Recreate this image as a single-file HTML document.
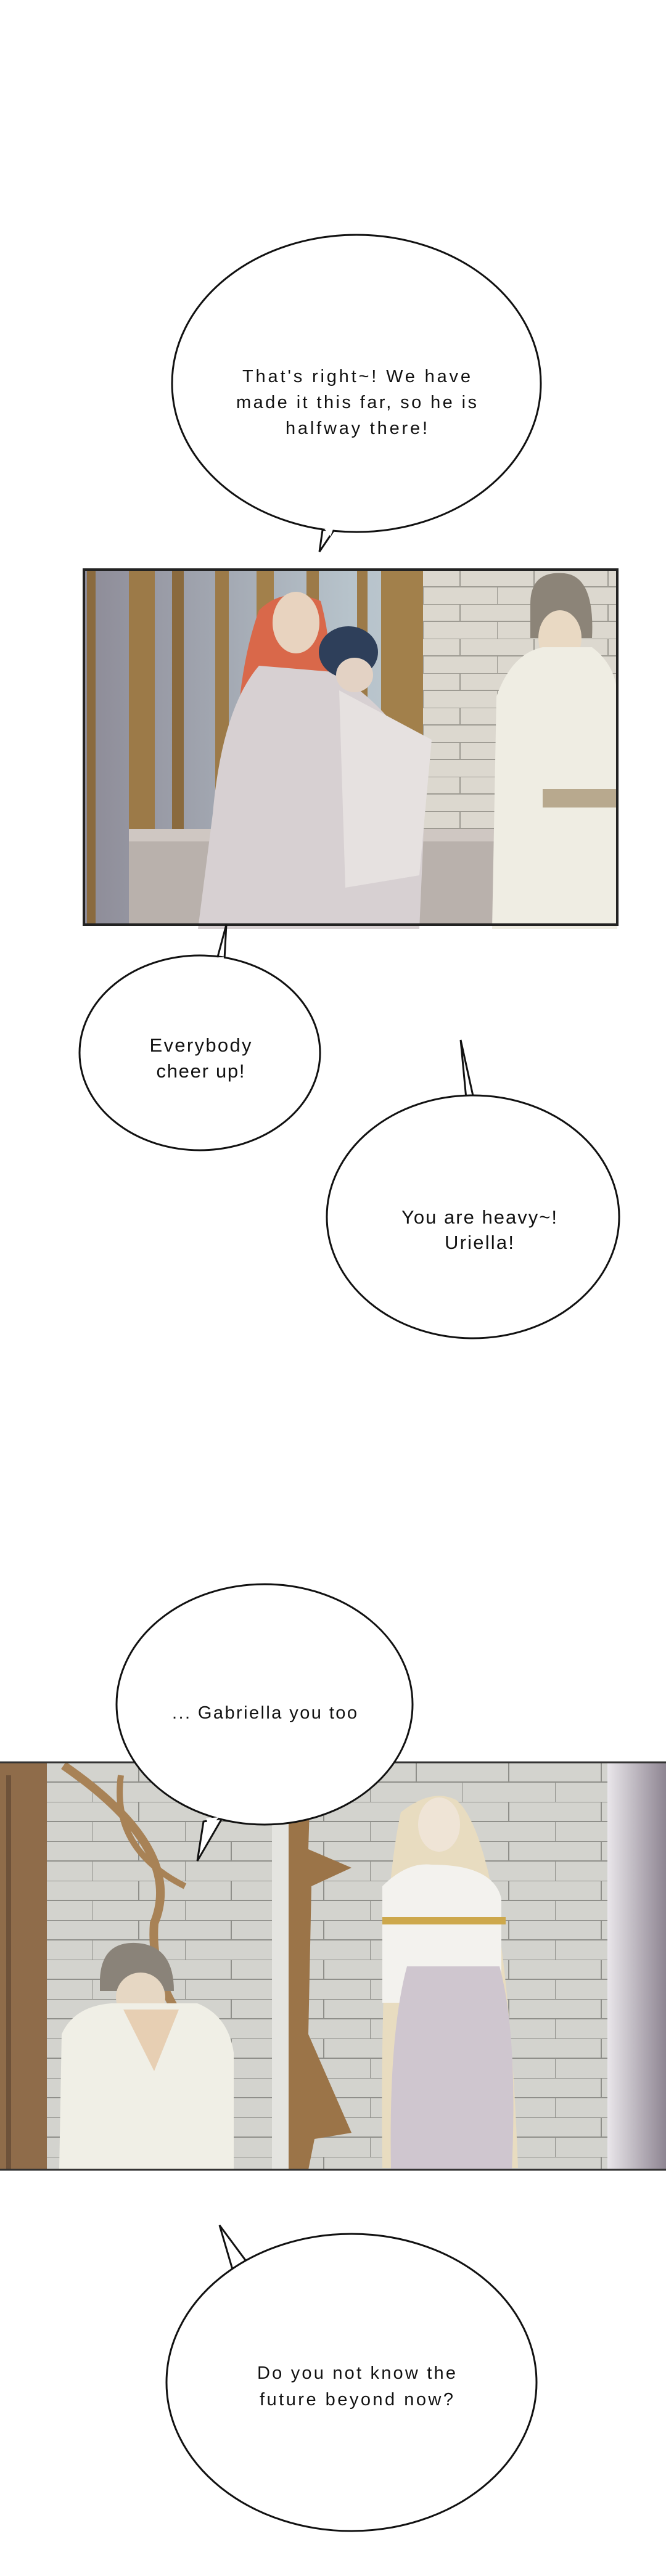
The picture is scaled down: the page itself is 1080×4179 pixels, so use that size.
<!DOCTYPE html>
<html><head><meta charset="utf-8"><style>
html,body{margin:0;padding:0;background:#fff}
svg{display:block}
text{font-family:"Liberation Sans",sans-serif;fill:#111;text-anchor:middle}
</style></head><body>
<svg width="1080" height="4179" viewBox="0 0 1080 4179" xmlns="http://www.w3.org/2000/svg">
<defs>
<linearGradient id="lw" x1="0" x2="1" y1="0" y2="0"><stop offset="0" stop-color="#8d8b97"/><stop offset="0.5" stop-color="#b7c3cb"/><stop offset="1" stop-color="#c9d3d6"/></linearGradient>
<linearGradient id="rp" x1="0" x2="1"><stop offset="0" stop-color="#e9e6ea"/><stop offset="1" stop-color="#8e8592"/></linearGradient>
<pattern id="brick1" width="120" height="56" patternUnits="userSpaceOnUse" x="686" y="924"><rect width="120" height="56" fill="#dcd8cf"/><path d="M0 0H120M0 28H120M60 0V28M0 28V56" stroke="#9d9a92" stroke-width="2" fill="none"/></pattern>
<pattern id="brick2" width="150" height="64" patternUnits="userSpaceOnUse" x="0" y="2859"><rect width="150" height="64" fill="#d3d3ce"/><path d="M0 0H150M0 32H150M75 0V32M0 32V64" stroke="#8f8f8a" stroke-width="2" fill="none"/></pattern>
</defs>

<!-- Bubble 1 -->
<path d="M523 860 L518 895 L545 855 Z" fill="#fff" stroke="#111" stroke-width="3"/>
<ellipse cx="578" cy="622" rx="299" ry="241" fill="#fff" stroke="#111" stroke-width="3"/>
<path d="M526 858 L541 856 L536 870 Z" fill="#fff"/>
<text x="578" y="620" font-size="29" textLength="370">That's right~! We have</text>
<text x="578" y="662" font-size="29" textLength="390">made it this far, so he is</text>
<text x="578" y="704" font-size="29" textLength="230">halfway there!</text>

<!-- Panel 1 -->
<g>
<rect x="136" y="924" width="865" height="576" fill="url(#lw)"/>
<rect x="686" y="924" width="315" height="576" fill="url(#brick1)"/>
<rect x="141" y="924" width="14" height="576" fill="#8a6a3e"/>
<rect x="209" y="924" width="42" height="440" fill="#9c7a48"/>
<rect x="279" y="924" width="19" height="440" fill="#8a6a3e"/>
<rect x="349" y="924" width="22" height="440" fill="#9c7a48"/>
<rect x="416" y="924" width="28" height="440" fill="#a2804b"/>
<rect x="497" y="924" width="20" height="440" fill="#9c7a48"/>
<rect x="579" y="924" width="17" height="440" fill="#9c7a48"/>
<rect x="618" y="924" width="68" height="440" fill="#a2804b"/>
<rect x="209" y="1345" width="640" height="155" fill="#b9b1ac"/>
<rect x="209" y="1345" width="640" height="20" fill="#cfc7c2"/>
<path d="M383 1277 Q380 1100 420 990 Q460 950 520 975 Q540 1050 534 1120 Z" fill="#d9684a"/>
<path d="M321 1507 L345 1320 Q360 1150 420 1080 L540 1090 Q640 1150 691 1260 L680 1507 Z" fill="#d7d0d2"/>
<ellipse cx="480" cy="1010" rx="38" ry="50" fill="#e8d3bf"/>
<ellipse cx="565" cy="1058" rx="48" ry="42" fill="#2e3f5a"/>
<ellipse cx="575" cy="1095" rx="30" ry="28" fill="#e3d2c4"/>
<path d="M550 1120 L700 1200 L680 1420 L560 1440 Z" fill="#e6e1e0"/>
<path d="M860 980 Q860 925 915 930 Q965 935 960 1035 L860 1035 Z" fill="#8c8478"/>
<ellipse cx="908" cy="1035" rx="35" ry="45" fill="#e9d9c3"/>
<path d="M798 1507 L805 1130 Q830 1060 880 1050 L960 1050 Q1000 1080 1001 1130 L1001 1507 Z" fill="#efede3"/>
<path d="M880 1280 L1001 1280 L1001 1310 L880 1310 Z" fill="#b8a98e"/>
<rect x="136" y="924" width="865" height="576" fill="none" stroke="#222" stroke-width="4"/>
</g>

<!-- Bubble 2 -->
<path d="M352 1556 L367 1500 L364 1556 Z" fill="#fff" stroke="#111" stroke-width="3"/>
<ellipse cx="324" cy="1708" rx="195" ry="158" fill="#fff" stroke="#111" stroke-width="3"/>
<path d="M354 1553 L363 1553 L362 1560 Z" fill="#fff"/>
<text x="325" y="1706" font-size="31" textLength="165">Everybody</text>
<text x="325" y="1748" font-size="31" textLength="143">cheer up!</text>

<!-- Bubble 3 -->
<path d="M756 1782 L747 1687 L768 1782 Z" fill="#fff" stroke="#111" stroke-width="3"/>
<ellipse cx="767" cy="1974" rx="237" ry="197" fill="#fff" stroke="#111" stroke-width="3"/>
<path d="M758 1779 L766 1779 L762 1786 Z" fill="#fff"/>
<text x="777" y="1985" font-size="31" textLength="252">You are heavy~!</text>
<text x="777" y="2026" font-size="31" textLength="112">Uriella!</text>

<!-- Panel 2 -->
<g>
<rect x="0" y="2859" width="1080" height="661" fill="url(#brick2)"/>
<rect x="0" y="2859" width="76" height="661" fill="#8f6c4a"/>
<rect x="10" y="2880" width="8" height="640" fill="#6e523a"/>
<rect x="441" y="2859" width="34" height="661" fill="#e4e4e0"/>
<path d="M468 2930 L503 2900 L500 3000 L570 3030 L505 3060 L500 3300 L570 3460 L510 3470 L500 3520 L468 3520 Z" fill="#9b7448"/>
<path d="M103 2864 Q300 3000 250 3120 Q240 3250 372 3356" stroke="#a88256" stroke-width="14" fill="none"/>
<path d="M196 2880 Q180 3000 300 3060" stroke="#a88256" stroke-width="10" fill="none"/>
<path d="M162 3210 Q165 3150 220 3152 Q282 3155 282 3230 L162 3230 Z" fill="#8a8379"/>
<ellipse cx="228" cy="3240" rx="40" ry="40" fill="#e6d7c3"/>
<path d="M96 3520 L100 3300 Q120 3255 180 3250 L320 3250 Q370 3270 379 3330 L379 3520 Z" fill="#f0efe6"/>
<path d="M200 3260 L290 3260 L250 3360 Z" fill="#e7cfb3"/>
<path d="M620 3517 Q615 3100 650 2940 Q700 2900 740 2920 Q820 2990 840 3517 Z" fill="#e8dcc0"/>
<ellipse cx="712" cy="2960" rx="34" ry="44" fill="#efe4d6"/>
<path d="M620 3060 Q660 3020 700 3025 Q800 3025 813 3080 L813 3249 L620 3249 Z" fill="#f3f2ee"/>
<path d="M634 3520 Q630 3300 660 3190 L810 3190 Q840 3300 830 3520 Z" fill="#cfc6cf"/>
<rect x="620" y="3110" width="200" height="12" fill="#cda84c"/>
<rect x="985" y="2859" width="95" height="661" fill="url(#rp)"/>
<line x1="0" y1="2859" x2="1080" y2="2859" stroke="#333" stroke-width="3"/>
<line x1="0" y1="3520" x2="1080" y2="3520" stroke="#333" stroke-width="3"/>
</g>

<!-- Bubble 4 -->
<path d="M330 2955 L320 3019 L360 2950 Z" fill="#fff" stroke="#111" stroke-width="3"/>
<ellipse cx="429" cy="2765" rx="240" ry="195" fill="#fff" stroke="#111" stroke-width="3"/>
<path d="M334 2950 L355 2948 L340 2965 Z" fill="#fff"/>
<text x="429" y="2788" font-size="29" textLength="300">... Gabriella you too</text>

<!-- Bubble 5 -->
<path d="M378 3685 L356 3610 L402 3672 Z" fill="#fff" stroke="#111" stroke-width="3"/>
<ellipse cx="570" cy="3865" rx="300" ry="241" fill="#fff" stroke="#111" stroke-width="3"/>
<path d="M381 3682 L399 3674 L392 3692 Z" fill="#fff"/>
<text x="578" y="3859" font-size="29" textLength="322">Do you not know the</text>
<text x="578" y="3902" font-size="29" textLength="314">future beyond now?</text>
</svg>
</body></html>
